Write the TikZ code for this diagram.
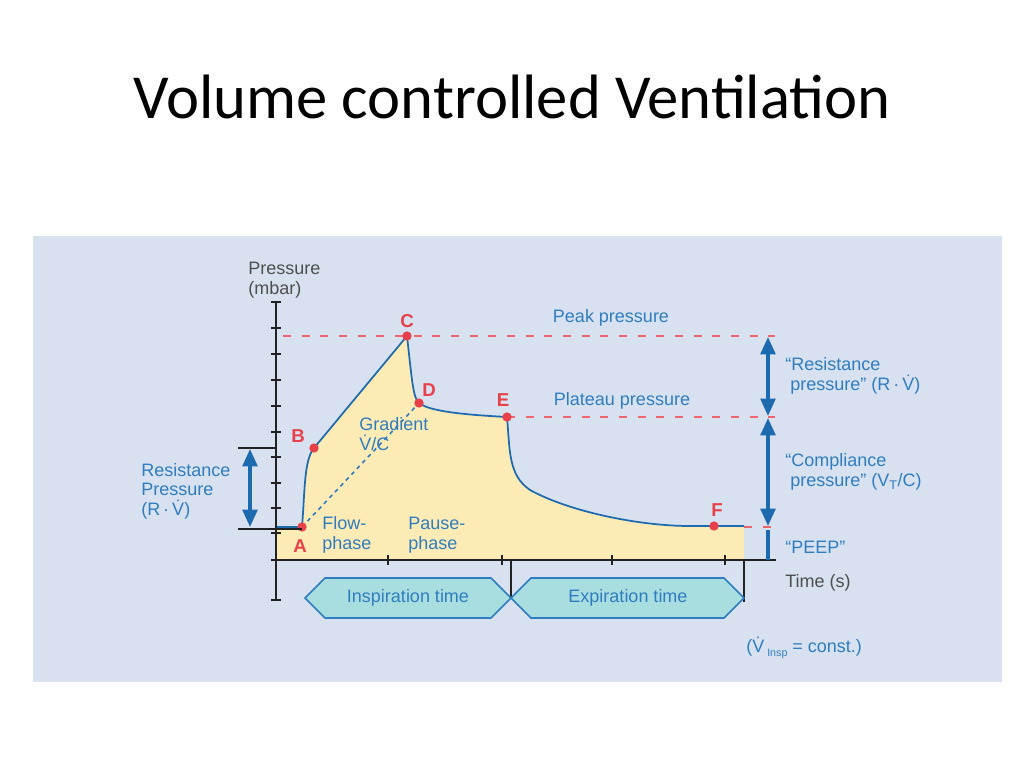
\documentclass[tikz,border=0pt]{standalone}
\usepackage{fontspec}
\setmainfont{Liberation Sans}
\newfontfamily\titlefont{Carlito}
\usetikzlibrary{arrows.meta}
\definecolor{bgc}{HTML}{D7E1EF}
\definecolor{tblue}{HTML}{2F7DC0}
\definecolor{cblue}{HTML}{1E6AAE}
\definecolor{dred}{HTML}{E8404A}
\definecolor{fillc}{HTML}{FCEBB5}
\definecolor{chev}{HTML}{A9DEE0}
\definecolor{axc}{HTML}{222222}
\begin{document}
\begin{tikzpicture}[x=0.75pt,y=-0.75pt,
  lbl/.style={font=\fontsize{13.5}{14.5}\selectfont,text=tblue,align=left,inner sep=0},
  rlbl/.style={font=\fontsize{14}{14}\selectfont\bfseries,text=dred,inner sep=0},
  pt/.style={circle,fill=dred,inner sep=0,minimum size=7pt},
  rdash/.style={dred!80,line width=1.3pt,dash pattern=on 6pt off 8pt},
  barr/.style={cblue,line width=2.6pt,{Triangle[length=13pt,width=11pt]}-{Triangle[length=13pt,width=11pt]}}]
\useasboundingbox (0,0) rectangle (1024,768);
\node[font=\titlefont\fontsize{47}{50}\selectfont] (title) at (512,97) {Volume controlled Ventilation};
\fill[bgc] (33,236) rectangle (1002,682);
% fill and curve
\fill[fillc] (276,527) -- (302,527) .. controls (305,490) and (304,460) .. (314,448) -- (407,336)
  .. controls (412,380) and (413,398) .. (419,403) .. controls (430,412) and (470,415) .. (507,417)
  .. controls (510,450) and (508,475) .. (530,490) .. controls (570,512) and (640,526) .. (690,526) -- (744,526) -- (744,560) -- (276,560) -- cycle;
\draw[rdash] (283,336) -- (775,336);
\draw[rdash] (507,417) -- (775,417);
\draw[rdash] (744,527) -- (775,527);
\draw[cblue,line width=1.3pt,line join=round] (276,527) -- (302,527) .. controls (305,490) and (304,460) .. (314,448) -- (407,336)
  .. controls (412,380) and (413,398) .. (419,403) .. controls (430,412) and (470,415) .. (507,417)
  .. controls (510,450) and (508,475) .. (530,490) .. controls (570,512) and (640,526) .. (690,526) -- (744,526);
\coordinate (cA) at (302,527); \coordinate (cB) at (314,448); \coordinate (cC) at (407,336);
\coordinate (cD) at (419,403); \coordinate (cE) at (507,417); \coordinate (cF) at (714,526);
\draw[tblue,line width=1.2pt,dashed] (cA) -- (cD);
% axes
\draw[axc,line width=2pt] (276,302) -- (276,601);
\foreach \y in {302,328,354,380,406,432,457,483,508,533,560,600} \draw[axc,line width=1.5pt] (271,\y) -- (281,\y);
\draw[axc,line width=2pt] (276,560) -- (776,560);
\foreach \x in {388,502,612,725} \draw[axc,line width=1.5pt] (\x,555) -- (\x,565);
\draw[axc,line width=0.8pt] (511,560) -- (511,598);
\draw[axc,line width=0.8pt] (744,560) -- (744,602);
% points
\node[pt] (A) at (cA) {}; \node[pt] (B) at (cB) {}; \node[pt] (C) at (cC) {};
\node[pt] (D) at (cD) {}; \node[pt] (E) at (cE) {}; \node[pt] (F) at (cF) {};
\node[rlbl] (lA) at (300,546) {A}; \node[rlbl] (lB) at (298,436) {B};
\node[rlbl] (lC) at (407,321) {C}; \node[rlbl] (lD) at (429,390) {D};
\node[rlbl] (lE) at (503,400) {E}; \node[rlbl] (lF) at (717,510) {F};
% chevrons
\draw[tblue,fill=chev,line width=1.2pt] (305,598) -- (325,578) -- (491,578) -- (511,598) -- (491,618) -- (325,618) -- cycle;
\draw[tblue,fill=chev,line width=1.2pt] (511,598) -- (531,578) -- (724,578) -- (744,598) -- (724,618) -- (531,618) -- cycle;
\node[lbl] (insp) at (408,598) {Inspiration time};
\node[lbl] (exp) at (628,598) {Expiration time};
% left resistance
\draw[axc,line width=0.8pt] (238,448) -- (276,448);
\draw[axc,line width=0.8pt] (238,529) -- (302,529);
\draw[barr] (250,449) -- (250,527);
\node[lbl,anchor=west] (rp) at (141,491) {Resistance\\Pressure\\(R\,·\,\.V)};
% right arrows
\draw[barr] (768,337) -- (768,416);
\draw[barr] (768,418) -- (768,526);
\draw[cblue,line width=2.6pt] (768,530) -- (768,560);
% labels
\node[lbl,text=axc!80,anchor=west] (pr) at (248,280) {Pressure\\(mbar)};
\node[lbl] (peak) at (611,318) {Peak pressure};
\node[lbl] (plat) at (622,401) {Plateau pressure};
\node[lbl,anchor=west] (grad) at (359,434) {Gradient\\\.V/C};
\node[lbl,anchor=west] (flow) at (322,535) {Flow-\\phase};
\node[lbl,anchor=west] (pause) at (408,535) {Pause-\\phase};
\node[lbl,anchor=west] (rr) at (785,376) {“Resistance\\\ pressure” (R\,·\,\.V)};
\node[lbl,anchor=west] (cr) at (785,472) {“Compliance\\\ pressure” (V\textsubscript{T}/C)};
\node[lbl,anchor=west] (peep) at (785,547) {“PEEP”};
\node[lbl,text=axc!80,anchor=west] (time) at (785,583) {Time (s)};
\node[lbl,anchor=west] (vc) at (746,648) {(\.V\,{\fontsize{8}{8}\selectfont\raisebox{-3pt}{Insp}} = const.)};
\end{tikzpicture}
\end{document}
